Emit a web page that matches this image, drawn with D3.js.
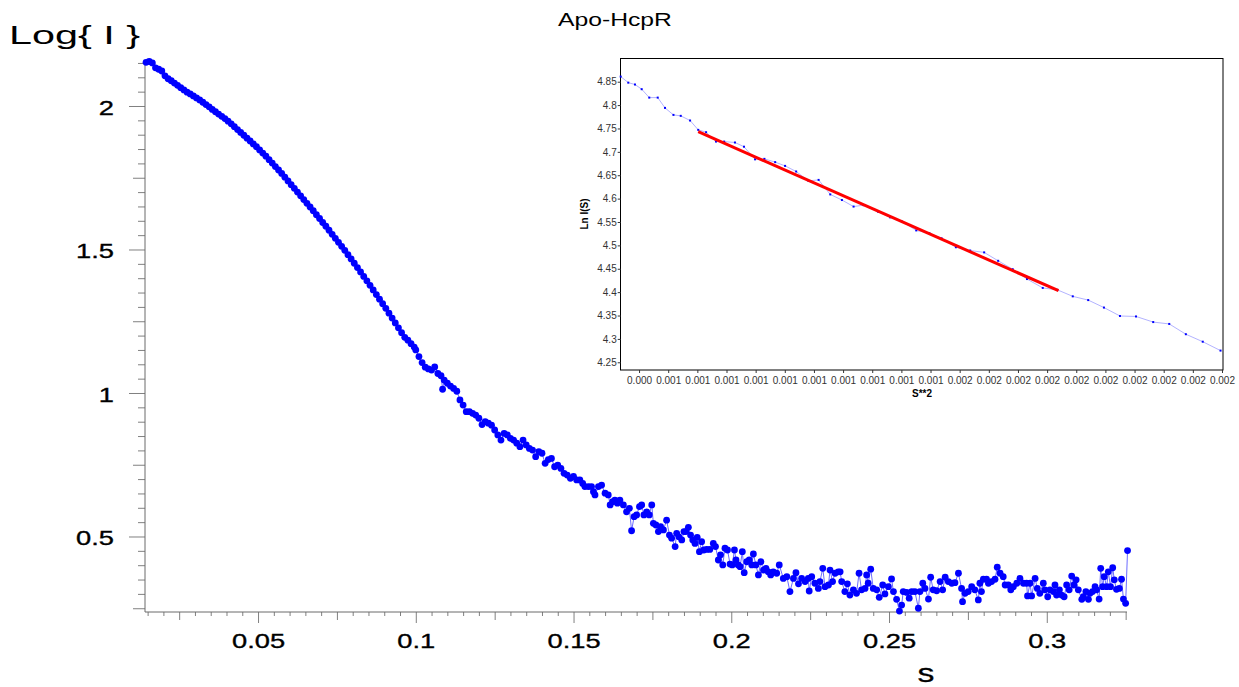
<!DOCTYPE html>
<html><head><meta charset="utf-8">
<script src="https://cdn.jsdelivr.net/npm/d3@7"></script>
<style>body{margin:0;background:#fff;overflow:hidden}text{font-family:"Liberation Sans",Arial,sans-serif}</style>
</head><body><script>
// ---------- main scattering curve: s vs Log{I} ----------
const S = [
0.0145,0.0155,0.0165,0.0175,0.0185,0.0195,0.0205,0.0215,0.0225,0.0235,0.0245,0.0255,0.0265,0.0275,0.0285,0.0295,0.0305,0.0315,0.0325,0.0335,
0.0345,0.0355,0.0365,0.0375,0.0385,0.0395,0.0405,0.0415,0.0425,0.0435,0.0445,0.0455,0.0465,0.0475,0.0485,0.0495,0.0505,0.0515,0.0525,0.0535,
0.0545,0.0555,0.0565,0.0575,0.0585,0.0595,0.0605,0.0615,0.0625,0.0635,0.0645,0.0655,0.0665,0.0675,0.0685,0.0695,0.0705,0.0715,0.0725,0.0735,
0.0745,0.0755,0.0765,0.0775,0.0785,0.0795,0.0805,0.0815,0.0825,0.0835,0.0845,0.0855,0.0865,0.0875,0.0885,0.0895,0.0905,0.0915,0.0925,0.0935,
0.0945,0.0955,0.0965,0.0975,0.0985,0.0995,
0.100,0.101,0.102,0.103,0.104,0.105,0.106,0.107,0.108,0.1085,0.109,0.110,0.111,0.112,0.113,0.114,0.115,0.116,0.117,0.118,
0.119,0.120,0.121,0.122,0.123,0.124,0.125,0.126,0.127,0.128,0.129,0.130,0.131,0.132,0.133,0.134,0.135,0.136,0.137,0.138,
0.139,0.140,0.141,0.142,0.143,0.144,0.145,0.146,0.147,0.148,0.149,0.150,0.151,
0.1520,0.1529,0.1536,0.1547,0.1557,0.1563,0.1568,0.1579,0.1589,0.1600,0.1610,0.1616,0.1624,0.1631,0.1639,0.1647,0.1658,0.1668,0.1677,0.1684,
0.1692,0.1700,0.1709,0.1716,0.1723,0.1732,0.1740,0.1748,0.1753,0.1761,0.1769,0.1776,0.1785,0.1795,0.1804,0.1811,0.1822,0.1827,0.1834,0.1843,
0.1850,0.1856,0.1864,0.1871,0.1878,0.1885,0.1892,0.1899,0.1906,0.1913,0.1922,0.1932,0.1943,0.1950,0.1959,0.1966,0.1973,0.1980,0.1988,0.1996,
0.2003,0.2010,0.2015,0.2022,0.2028,0.2035,0.2041,0.2049,0.2057,0.2065,0.2070,0.2078,0.2086,0.2094,0.2102,0.2110,0.2117,0.2125,0.2133,0.2144,0.2152,
0.2165,0.2176,0.2186,0.2197,0.2205,0.2213,0.2223,0.2234,0.2244,0.2247,0.2255,0.2265,0.2276,0.2281,0.2290,0.2297,0.2308,0.2313,0.2321,0.2329,
0.2339,0.2345,0.2350,0.2360,0.2368,0.2376,0.2387,0.2397,0.2405,0.2413,0.2424,0.2429,0.2434,0.2442,0.2450,0.2461,0.2469,0.2480,0.2487,0.2498,
0.2508,0.2514,0.2524,0.2533,0.2540,0.2545,0.2556,0.2564,0.2572,0.2582,0.2593,0.2598,0.2607,0.2614,0.2625,0.2632,0.2640,0.2651,0.2662,0.2670,
0.2678,0.2688,0.2699,0.2709,0.2720,
0.2730,0.2733,0.2741,0.2751,0.2762,0.2772,0.2783,0.2788,0.2793,0.2799,0.2809,0.2815,0.2825,0.2836,0.2843,0.2852,0.2862,0.2868,0.2878,0.2886,
0.2894,0.2905,0.2915,0.2926,0.2936,0.2939,0.2947,0.2952,0.2963,0.2970,0.2978,0.2989,0.2994,0.3003,0.3010,0.3021,0.3026,0.3031,0.3040,0.3047,
0.3055,0.3063,0.3071,0.3079,0.3086,0.3093,0.3100,0.3111,0.3116,0.3124,0.3132,0.3137,0.3145,0.3153,0.3158,0.3166,0.3171,0.3177,0.3182,0.3190,
0.3195,0.3202,0.3209,0.3214,0.3221,0.3230,0.3237,0.3243,0.3250,0.3256
];
const LOGI = [
2.152,2.155,2.150,2.133,2.128,2.122,2.105,2.095,2.088,2.080,2.072,2.064,2.056,2.048,2.042,2.035,2.028,2.021,2.013,2.005,
1.997,1.988,1.980,1.972,1.964,1.956,1.947,1.938,1.928,1.918,1.908,1.898,1.888,1.878,1.868,1.858,1.847,1.836,1.825,1.813,
1.801,1.789,1.777,1.765,1.752,1.739,1.726,1.713,1.700,1.687,1.674,1.661,1.648,1.635,1.621,1.608,1.594,1.581,1.567,1.553,
1.539,1.525,1.511,1.497,1.482,1.467,1.452,1.437,1.422,1.406,1.391,1.375,1.359,1.343,1.327,1.311,1.295,1.278,1.261,1.244,
1.227,1.210,1.194,1.184,1.172,1.160,
1.150,1.127,1.106,1.090,1.084,1.080,1.091,1.068,1.060,1.013,1.045,1.034,1.024,1.016,1.006,0.976,0.958,0.935,0.935,0.929,
0.923,0.912,0.890,0.900,0.895,0.888,0.871,0.854,0.836,0.859,0.854,0.842,0.836,0.825,0.813,0.836,0.819,0.807,0.801,0.778,
0.796,0.790,0.755,0.768,0.772,0.743,0.749,0.737,0.720,0.714,0.703,0.709,0.697,
0.697,0.685,0.674,0.674,0.674,0.656,0.645,0.674,0.679,0.651,0.645,0.610,0.621,0.627,0.616,0.627,0.610,0.586,0.598,0.520,
0.569,0.575,0.604,0.610,0.575,0.586,0.575,0.610,0.546,0.540,0.517,0.534,0.523,0.557,0.505,0.494,0.465,0.511,0.499,0.488,
0.517,0.517,0.532,0.505,0.488,0.476,0.497,0.447,0.482,0.453,0.455,0.455,0.476,0.465,0.418,0.436,0.401,0.459,0.453,0.404,
0.401,0.453,0.418,0.401,0.395,0.447,0.374,0.412,0.418,0.401,0.439,0.401,0.366,0.412,0.383,0.389,0.377,0.366,0.377,0.372,0.401,
0.354,0.360,0.308,0.354,0.374,0.335,0.354,0.343,0.354,0.310,0.360,0.337,0.319,0.343,0.389,0.325,0.331,0.383,0.343,0.372,
0.377,0.377,0.343,0.308,0.335,0.296,0.314,0.302,0.372,0.314,0.319,0.366,0.337,0.386,0.319,0.314,0.288,0.331,0.300,0.325,
0.352,0.308,0.281,0.240,0.261,0.308,0.305,0.285,0.308,0.308,0.250,0.308,0.337,0.319,0.282,0.358,0.314,0.311,0.343,0.314,
0.358,0.343,0.337,0.339,0.372,
0.319,0.273,0.302,0.308,0.325,0.314,0.279,0.337,0.308,0.351,0.351,0.337,0.343,0.351,0.393,0.372,0.360,0.331,0.331,0.314,
0.325,0.337,0.354,0.337,0.337,0.293,0.337,0.293,0.354,0.319,0.302,0.337,0.314,0.290,0.314,0.308,0.331,0.296,0.314,0.296,
0.290,0.331,0.314,0.362,0.331,0.349,0.314,0.281,0.290,0.308,0.281,0.302,0.308,0.325,0.314,0.282,0.389,0.325,0.360,0.325,
0.377,0.325,0.391,0.349,0.316,0.319,0.351,0.282,0.267,0.451
];
const X_TICKS = [0.05,0.1,0.15,0.2,0.25,0.3];
const X_TICK_LABELS = ["0.05","0.1","0.15","0.2","0.25","0.3"];
const Y_TICKS = [0.5,1,1.5,2];
const Y_TICK_LABELS = ["0.5","1","1.5","2"];

// ---------- inset Guinier plot: S**2 vs Ln I(S) ----------
const INSET_S2 = [
0.000387,0.000413,0.000436,0.000459,0.000485,0.000514,0.000539,0.000568,0.000593,0.000625,
0.000653,0.000680,0.000714,0.000742,0.000779,0.000810,0.000848,0.000880,0.000917,0.000951,
0.000989,0.001031,0.001066,0.001106,0.001146,0.001186,0.001220,0.001270,0.001311,0.001352,
0.001401,0.001446,0.001488,0.001537,0.001586,0.001634,0.001682,0.001732,0.001781,0.001835,
0.001885,0.001938,0.001991,0.002045,0.002100,0.002155,0.002214,0.002269,0.002326,0.002384,0.002445
];
const INSET_LNI = [
4.861,4.848,4.844,4.834,4.816,4.816,4.794,4.779,4.777,4.767,
4.747,4.742,4.722,4.722,4.720,4.711,4.684,4.685,4.678,4.670,
4.658,4.638,4.640,4.609,4.597,4.583,4.586,4.572,4.560,4.551,
4.532,4.526,4.515,4.496,4.489,4.485,4.467,4.449,4.428,4.409,
4.405,4.391,4.383,4.367,4.349,4.348,4.336,4.332,4.310,4.294,4.275
];
const FIT_S2 = [0.000653, 0.001889];
const FIT_LNI = [4.743, 4.403];
const INSET_X_TICKS = [0.00045,0.00055,0.00065,0.00075,0.00085,0.00095,0.00105,0.00115,0.00125,0.00135,0.00145,
  0.00155,0.00165,0.00175,0.00185,0.00195,0.00205,0.00215,0.00225,0.00235,0.00245];
const INSET_X_LABELS = ["0.000","0.001","0.001","0.001","0.001","0.001","0.001","0.001","0.001","0.001","0.001",
  "0.002","0.002","0.002","0.002","0.002","0.002","0.002","0.002","0.002","0.002"];
const INSET_Y_TICKS = [4.25,4.3,4.35,4.4,4.45,4.5,4.55,4.6,4.65,4.7,4.75,4.8,4.85];
const INSET_Y_LABELS = ["4.25","4.3","4.35","4.4","4.45","4.5","4.55","4.6","4.65","4.7","4.75","4.8","4.85"];

const W = 1239, H = 687;
const FONT = '"Liberation Sans", Arial, sans-serif';
const svg = d3.select("body").append("svg").attr("width", W).attr("height", H);

const x = d3.scaleLinear().domain([0.01417, 0.32543]).range([145, 1127]);
const y = d3.scaleLinear().domain([0.2369, 2.1533]).range([612, 62]);
const AX = "#808080";
const r2 = v => Math.round(v * 1000) / 1000;

// ---- main axes ----
const xMinor = d3.range(0.015, 0.3256, 0.005).map(r2).filter(v => Math.abs(v / 0.025 - Math.round(v / 0.025)) > 1e-6);
const xMed = d3.range(0.025, 0.3256, 0.025).map(r2).filter(v => Math.abs(v / 0.05 - Math.round(v / 0.05)) > 1e-6);
const yMinor = d3.range(0.25, 2.16, 0.05).map(v => Math.round(v * 100) / 100).filter(v => Math.abs(v / 0.25 - Math.round(v / 0.25)) > 1e-6);
const yMed = [0.25, 0.75, 1.25, 1.75];

function styleAxis(g) {
  g.selectAll("path.domain").remove();
  g.selectAll("line").attr("stroke", AX).attr("stroke-width", 1);
}
const gx = svg.append("g").attr("transform", "translate(0,612)");
gx.append("g").call(d3.axisBottom(x).tickValues(xMinor).tickSize(4).tickFormat("")).call(styleAxis);
gx.append("g").call(d3.axisBottom(x).tickValues(xMed).tickSize(8).tickFormat("")).call(styleAxis);
const gxMaj = gx.append("g").call(d3.axisBottom(x).tickValues(X_TICKS).tickSize(11)
  .tickFormat((d, i) => X_TICK_LABELS[i])).call(styleAxis);
gxMaj.attr("font-family", FONT).attr("font-size", 21);
gxMaj.selectAll("text").attr("y", 36).attr("dy", 0).attr("fill", "#000")
  .attr("stroke", "#000").attr("stroke-width", 0.35)
  .attr("transform", "scale(1.3,1)");
gx.append("line").attr("x1", 145).attr("x2", 1127).attr("y1", 0).attr("y2", 0).attr("stroke", "#6a6a6a");

const gy = svg.append("g").attr("transform", "translate(145,0)");
gy.append("g").call(d3.axisLeft(y).tickValues(yMinor).tickSize(7).tickFormat("")).call(styleAxis);
gy.append("g").call(d3.axisLeft(y).tickValues(yMed).tickSize(12).tickFormat("")).call(styleAxis);
const gyMaj = gy.append("g").call(d3.axisLeft(y).tickValues(Y_TICKS).tickSize(16)
  .tickFormat((d, i) => Y_TICK_LABELS[i])).call(styleAxis);
gyMaj.attr("font-family", FONT).attr("font-size", 21);
gyMaj.selectAll("text").attr("x", -31 / 1.3).attr("dy", "0.4em").attr("fill", "#000")
  .attr("stroke", "#000").attr("stroke-width", 0.35)
  .attr("transform", "scale(1.3,1)");
gy.append("line").attr("x1", 0).attr("x2", 0).attr("y1", 62).attr("y2", 612).attr("stroke", "#6a6a6a");

// ---- main labels ----
svg.append("text").attr("x", 9).attr("y", 44).attr("font-size", 26)
  .attr("textLength", 131).attr("lengthAdjust", "spacingAndGlyphs").text("Log{ I }");
svg.append("text").attr("transform", "translate(926,682) scale(1.3,1)").attr("text-anchor", "middle")
  .attr("font-size", 26).attr("stroke", "#000").attr("stroke-width", 0.3).text("s");
svg.append("text").attr("transform", "translate(615,26) scale(1.3,1)").attr("text-anchor", "middle")
  .attr("font-size", 19).text("Apo-HcpR");

// ---- main data ----
const pts = S.map((s, i) => [s, LOGI[i]]).filter(d => d[1] !== undefined);
svg.append("path").datum(pts)
  .attr("d", d3.line().x(d => x(d[0])).y(d => y(d[1])))
  .attr("fill", "none").attr("stroke", "#6b6bff").attr("stroke-width", 1);
svg.append("g").selectAll("circle").data(pts).join("circle")
  .attr("cx", d => x(d[0])).attr("cy", d => y(d[1])).attr("r", 3.4).attr("fill", "#0000ff");

// ---- inset ----
const ix = d3.scaleLinear().domain([0.000387, 0.0024545]).range([620.7, 1223.3]);
const iy = d3.scaleLinear().domain([4.2335, 4.9007]).range([370, 58]);
const ins = svg.append("g");
ins.append("rect").attr("x", 620.5).attr("y", 58.5).attr("width", 602.5).attr("height", 311.5)
  .attr("fill", "#fff").attr("stroke", "#000").attr("stroke-width", 1);

const ixa = ins.append("g").attr("transform", "translate(0,370)")
  .call(d3.axisBottom(ix).tickValues(INSET_X_TICKS).tickSize(3).tickSizeOuter(0)
    .tickFormat((d, i) => INSET_X_LABELS[i]));
ixa.select("path.domain").remove();
ixa.attr("font-family", FONT).attr("font-size", 10);
ixa.selectAll("line").attr("stroke", "#333");
ixa.selectAll("text").attr("y", 14).attr("dy", 0).attr("fill", "#333");

const iya = ins.append("g").attr("transform", "translate(620.7,0)")
  .call(d3.axisLeft(iy).tickValues(INSET_Y_TICKS).tickSize(3).tickSizeOuter(0).tickPadding(1)
    .tickFormat((d, i) => INSET_Y_LABELS[i]));
iya.select("path.domain").remove();
iya.attr("font-family", FONT).attr("font-size", 10);
iya.selectAll("line").attr("stroke", "#333");
iya.selectAll("text").attr("fill", "#333");

ins.append("text").attr("x", 922).attr("y", 397).attr("text-anchor", "middle")
  .attr("font-size", 10).attr("font-weight", "bold").text("S**2");
ins.append("text").attr("transform", "translate(588,214) rotate(-90)").attr("text-anchor", "middle")
  .attr("font-size", 10).attr("font-weight", "bold").text("Ln I(S)");

const ipts = INSET_S2.map((s, i) => [s, INSET_LNI[i]]);
ins.append("path").datum(ipts)
  .attr("d", d3.line().x(d => ix(d[0])).y(d => iy(d[1])))
  .attr("fill", "none").attr("stroke", "#b3b3ff").attr("stroke-width", 1);
ins.append("g").selectAll("rect").data(ipts).join("rect")
  .attr("x", d => ix(d[0]) - 1).attr("y", d => iy(d[1]) - 1).attr("width", 2).attr("height", 2)
  .attr("fill", "#0000ff");
ins.append("path").datum(FIT_S2.map((s, i) => [s, FIT_LNI[i]]))
  .attr("d", d3.line().x(d => ix(d[0])).y(d => iy(d[1])))
  .attr("stroke", "#ff0000").attr("stroke-width", 3).attr("fill", "none");
</script></body></html>
